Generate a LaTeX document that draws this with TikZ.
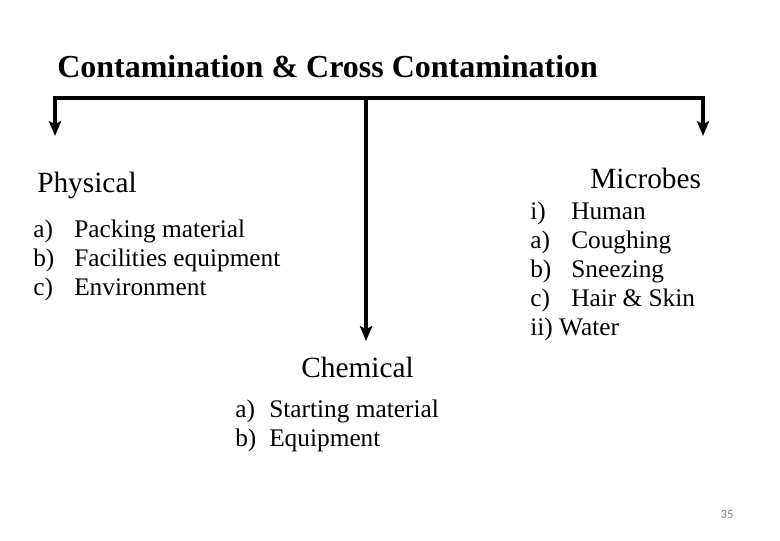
\documentclass[tikz,border=0pt]{standalone}
\usepackage{fontspec}
\setmainfont{Liberation Serif}
\newfontfamily\pagefont{Carlito}
\usetikzlibrary{arrows.meta}
\tikzset{
  conn/.style={line width=2.4pt,line join=miter,black},
  branchtip/.tip={Stealth[length=11pt,width=9pt,inset=2pt]},
  head/.style={anchor=base west,inner sep=0pt,font=\fontsize{22}{26}\selectfont},
  items/.style={anchor=base west,inner sep=0pt,align=left,font=\fontsize{19}{21.75}\selectfont},
}
\begin{document}
\begin{tikzpicture}[x=0.75pt,y=-0.75pt]
	\useasboundingbox (0,0) rectangle (780,540);
	% title and branch points
	\node[anchor=base west,inner sep=0pt,font=\fontsize{24}{28}\selectfont\bfseries] (title) at (57,77) {Contamination \& Cross Contamination};
	\coordinate (lcorner) at (55,98);
	\coordinate (rcorner) at (703,98);
	\coordinate (mid) at (366,98);
	\coordinate (ltip) at (55,136);
	\coordinate (rtip) at (703,136);
	\coordinate (mtip) at (366,341);
	% branches
	\node[head] (phys) at (37,192) {Physical};
	\node[head] (micro) at (590,188) {Microbes};
	\node[head] (chem) at (301,377) {Chemical};
	\node[items] (physlist) at (33,237) {%
		\begin{tabular}[t]{@{}p{41\dimexpr0.75pt\relax}@{}l@{}}
		a) & Packing material\\
		b) & Facilities equipment\\
		c) & Environment
		\end{tabular}};
	\node[items] (microlist) at (530,219) {%
		\begin{tabular}[t]{@{}p{41\dimexpr0.75pt\relax}@{}l@{}}
		i) & Human\\
		a) & Coughing\\
		b) & Sneezing\\
		c) & Hair \& Skin\\
		\multicolumn{2}{@{}l@{}}{ii) Water}
		\end{tabular}};
	\node[items] (chemlist) at (235,417) {%
		\begin{tabular}[t]{@{}p{34\dimexpr0.75pt\relax}@{}l@{}}
		a) & Starting material\\
		b) & Equipment
		\end{tabular}};
	% connectors
	\draw[conn,branchtip-branchtip] (ltip) -- (lcorner) -- (rcorner) -- (rtip);
	\draw[conn,-branchtip] (mid) -- (mtip);
	\node[anchor=center,inner sep=0pt,text=gray,font=\pagefont\fontsize{9.5}{11}\selectfont] (page) at (727,514) {35};
\end{tikzpicture}
\end{document}
